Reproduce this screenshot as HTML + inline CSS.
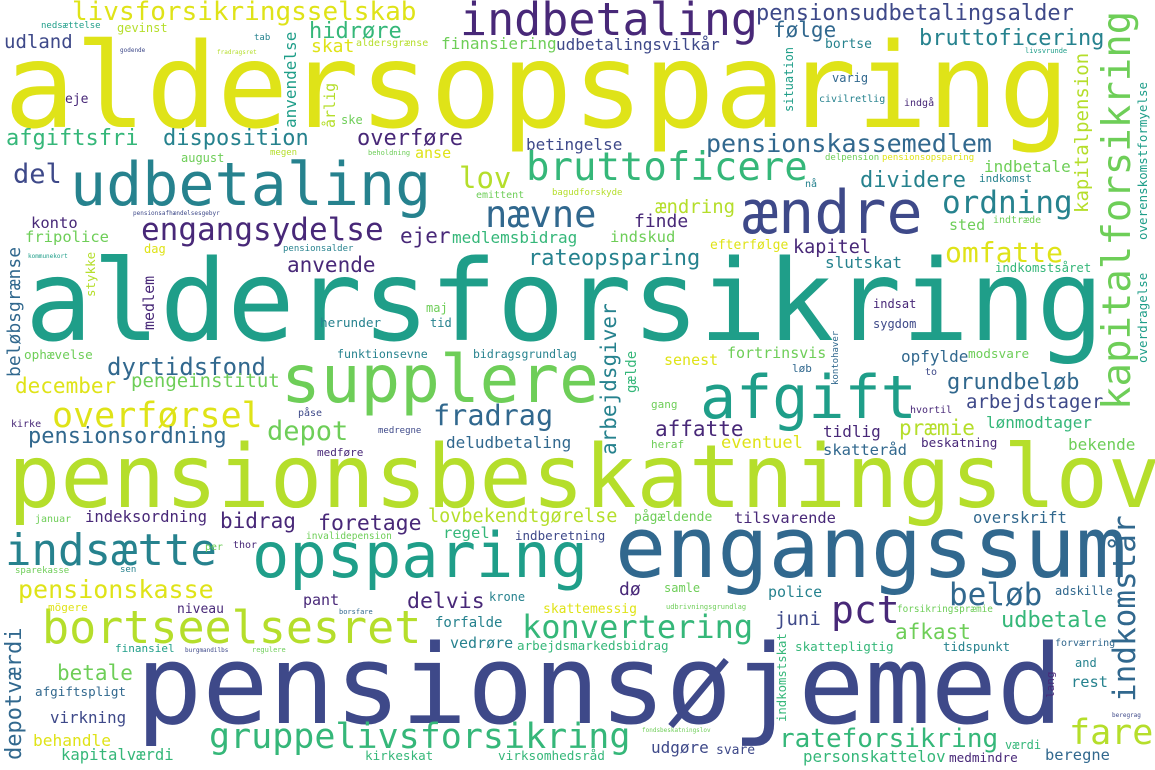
<!DOCTYPE html>
<html><head><meta charset="utf-8"><style>
html,body{margin:0;padding:0;background:#fff;width:1155px;height:770px;overflow:hidden}
svg{display:block}
text{font-family:"DejaVu Sans Mono","Liberation Mono",monospace;white-space:pre}
</style></head><body>
<svg id="cloud" width="1155" height="770" viewBox="0 0 1155 770" xmlns="http://www.w3.org/2000/svg">
<rect width="1155" height="770" fill="#fff"/>
</svg>
<script>
const Y='#dfe318',YG='#b5de2b',G1='#6ece58',G2='#35b779',T1='#1f9e89',T2='#26828e',B1='#31688e',B2='#3e4989',P1='#482878',P0='#440154';
// [word, x, baselineY, fontSize, color, rotated]
const words=[
["aldersopsparing",4,127,118,Y,0],
["aldersforsikring",25,340,112,T1,0],
["pensionsbeskatningslov",8,507,87,YG,0],
["pensionsøjemed",136,723,110,B2,0],
["engangssum",615,577,85,B1,0],
["udbetaling",70,205,60,T2,0],
["opsparing",252,577,62,T1,0],
["supplere",281,402,66,G1,0],
["afgift",700,418,60,T1,0],
["ændre",742,233,60,B2,0],
["indbetaling",460,35,45,P1,0],
["kapitalforsikring",1130,410,39,G1,1],
["bortseelsesret",42,643,45,YG,0],
["bruttoficere",526,180,39,G2,0],
["indsætte",5,565,44,T2,0],
["pct",831,623,38,P1,0],
["gruppelivsforsikring",209,748,35,G2,0],
["konvertering",522,638,32,G2,0],
["nævne",485,227,37,B1,0],
["engangsydelse",141,240,31,P1,0],
["overførsel",52,427,35,Y,0],
["livsforsikringsselskab",72,20,26,Y,0],
["pensionsudbetalingsalder",756,20,22,B2,0],
["lov",459,188,29,YG,0],
["ordning",942,213,31,T2,0],
["fare",1069,744,35,YG,0],
["indkomstår",1135,702,31,B1,1],
["omfatte",945,262,28,Y,0],
["depot",267,440,27,G1,0],
["fradrag",433,425,28.5,B1,0],
["pensionskasse",18,598,25,Y,0],
["beløb",949,605,31,B1,0],
["rateforsikring",779,747,26,G2,0],
["udbetale",1001,627,22,G2,0],
["pensionskassemedlem",706,152,25,B1,0],
["dyrtidsfond",107,375,24,B1,0],
["pensionsordning",28,443,22,B1,0],
["afgiftsfri",6,145,22,G2,0],
["disposition",163,145,22,T2,0],
["overføre",357,145,22,P1,0],
["bruttoficering",919,45,22,T2,0],
["følge",773,37,21,B1,0],
["hidrøre",309,38,22,G2,0],
["skat",311,52,18,Y,0],
["del",13,183,27,B2,0],
["nedsættelse",41,28,9,T1,0],
["gevinst",117,32,12,YG,0],
["udland",4,48,19,B2,0],
["eje",65,103,13,P1,0],
["tab",254,40,9,T2,0],
["godende",120,52,6,B2,0],
["fradragsret",217,54,6,YG,0],
["aldersgrænse",356,46,10,YG,0],
["finansiering",441,49,16,G1,0],
["udbetalingsvilkår",556,50,16,B2,0],
["bortse",825,48,13,T2,0],
["livsvrunde",1025,53,7,T1,0],
["situation",793,112,12,T1,1],
["varig",832,82,12,B1,0],
["civilretlig",819,102,10,T2,0],
["indgå",904,106,10,P1,0],
["anvendelse",296,128,16,T1,1],
["årlig",335,128,15,YG,1],
["ske",341,124,12,G1,0],
["august",181,162,12,G1,0],
["megen",270,155,9,YG,0],
["beholdning",368,155,7,G1,0],
["anse",415,158,15,Y,0],
["betingelse",526,150,16,B2,0],
["delpension",825,160,9,G1,0],
["pensionsopsparing",882,160,9,Y,0],
["indbetale",984,172,16,G1,0],
["indkomst",979,182,11,T2,0],
["kapitalpension",1088,213,19,YG,1],
["overenskomstformyelse",1147,240,12.5,T1,1],
["overdragelse",1147,363,12.5,T1,1],
["dividere",860,187,22,T2,0],
["nå",805,187,10,T2,0],
["emittent",476,198,10,G1,0],
["bagudforskyde",552,195,9,YG,0],
["pensionsafhændelsesgebyr",133,215,6,B2,0],
["konto",31,228,15.5,P1,0],
["fripolice",25,242,15.5,G1,0],
["ejer",400,243,21,P1,0],
["medlemsbidrag",452,243,16,G2,0],
["dag",144,253,12,Y,0],
["pensionsalder",283,251,9,T2,0],
["kommunekort",28,258,6,T1,0],
["anvende",287,272,21,P1,0],
["rateopsparing",528,265,22,T2,0],
["ændring",655,213,19,YG,0],
["finde",634,227,18,P1,0],
["sted",949,230,15,G1,0],
["indtræde",993,223,10,G1,0],
["indskud",610,242,15.5,G1,0],
["efterfølge",710,249,13,Y,0],
["kapitel",793,253,18.5,P1,0],
["slutskat",825,268,16,T2,0],
["indkomstsåret",995,272,12.3,G2,0],
["beløbsgrænse",20,377,18,B1,1],
["stykke",95,297,12.5,YG,1],
["medlem",154,330,15,P1,1],
["maj",426,312,12,G1,0],
["herunder",320,327,12.7,T2,0],
["tid",430,327,12,T2,0],
["ophævelse",24,359,12.7,G1,0],
["funktionsevne",337,358,11.6,T2,0],
["bidragsgrundlag",473,358,11.5,T2,0],
["pengeinstitut",131,387,19,G1,0],
["december",15,393,21,Y,0],
["påse",298,416,10,B2,0],
["kirke",11,427,10,P1,0],
["medregne",378,433,9,B2,0],
["deludbetaling",446,448,16,B1,0],
["medføre",317,456,11,P1,0],
["indsat",873,308,12,P1,0],
["sygdom",873,328,12,B2,0],
["arbejdsgiver",616,455,21,T2,1],
["gælde",636,393,14,G2,1],
["senest",664,365,15,Y,0],
["fortrinsvis",727,358,15,G1,0],
["kontohaver",838,385,9,B1,1],
["opfylde",901,362,16,B1,0],
["modsvare",968,358,12.7,G1,0],
["løb",792,372,11,B1,0],
["to",925,375,10,B2,0],
["grundbeløb",947,389,22,B1,0],
["arbejdstager",966,408,19,B2,0],
["gang",651,408,11,G1,0],
["hvortil",910,413,10,P1,0],
["affatte",655,436,21,P1,0],
["tidlig",823,437,16,P1,0],
["præmie",899,435,21,YG,0],
["lønmodtager",986,428,16,G2,0],
["heraf",651,448,11,G1,0],
["eventuel",721,448,17,Y,0],
["skatteråd",823,455,15.5,B1,0],
["beskatning",921,447,12.7,P1,0],
["bekende",1068,450,16,G1,0],
["pågældende",634,521,13,G1,0],
["tilsvarende",734,523,15.4,P1,0],
["overskrift",973,523,15.6,B1,0],
["januar",35,522,10,G1,0],
["indeksordning",85,522,15.6,P1,0],
["bidrag",220,528,21,P1,0],
["foretage",318,530,21.5,P1,0],
["lovbekendtgørelse",428,522,18.5,YG,0],
["regel",443,538,15.5,G2,0],
["indberetning",515,540,12.5,B2,0],
["per",205,550,10,G1,0],
["thor",233,548,10,P1,0],
["invalidepension",306,539,9.5,G1,0],
["sparekasse",15,573,9,G1,0],
["sen",120,572,9,T2,0],
["dø",619,595,18,P1,0],
["samle",664,592,12,G1,0],
["police",768,597,15,T2,0],
["adskille",1055,595,12,B1,0],
["udbrivningsgrundlag",666,609,7,G1,0],
["pant",303,605,15,P1,0],
["delvis",407,608,21.5,P1,0],
["krone",489,601,12,T2,0],
["mögere",48,611,11,Y,0],
["niveau",177,613,13,P1,0],
["borsfare",339,614,7,B1,0],
["juni",775,625,19,B2,0],
["forsikringspræmie",897,612,9.4,G1,0],
["afkast",895,639,21,G1,0],
["skattemessig",543,613,13,Y,0],
["forfalde",435,627,14,T2,0],
["finansiel",115,652,11,T1,0],
["burgmandilbs",185,652,6,B2,0],
["regulere",252,652,7,G1,0],
["vedrøre",450,648,15,T2,0],
["arbejdsmarkedsbidrag",517,650,12.6,G2,0],
["skattepligtig",795,651,12.6,G2,0],
["tidspunkt",943,651,12.4,T2,0],
["forværring",1055,646,10,B1,0],
["indkomstskat",786,722,12.3,G2,1],
["and",1075,667,12,T2,0],
["lang",1054,698,11,P1,1],
["rest",1071,687,15.4,T2,0],
["beregrag",1112,717,6,B2,0],
["betale",57,680,21,G1,0],
["depotværdi",21,760,22,B1,1],
["afgiftspligt",35,696,12.6,B1,0],
["virkning",50,723,15.8,B2,0],
["behandle",33,746,16.2,Y,0],
["kapitalværdi",61,760,15.6,G2,0],
["kirkeskat",365,760,12.6,G2,0],
["virksomhedsråd",498,760,12.7,G2,0],
["fondsbeskatningslov",642,732,6,G1,0],
["udgøre",651,753,16,B2,0],
["svare",716,754,13,B2,0],
["værdi",1005,749,12,G2,0],
["personskattelov",803,762,15.8,G2,0],
["medmindre",949,762,12.7,P1,0],
["beregne",1045,760,15.4,B1,0]
];
const svg=document.getElementById('cloud');
const NS='http://www.w3.org/2000/svg';
words.forEach(w=>{
  const el=document.createElementNS(NS,'text');
  
  
  el.setAttribute('font-size',w[3]);
  el.setAttribute('fill',w[4]);
  if(w[5]){el.setAttribute('transform','translate('+w[1]+','+w[2]+') rotate(-90)');}
  else{el.setAttribute('x',w[1]);el.setAttribute('y',w[2]);}
  el.textContent=w[0];
  svg.appendChild(el);
});
</script>
</body></html>
